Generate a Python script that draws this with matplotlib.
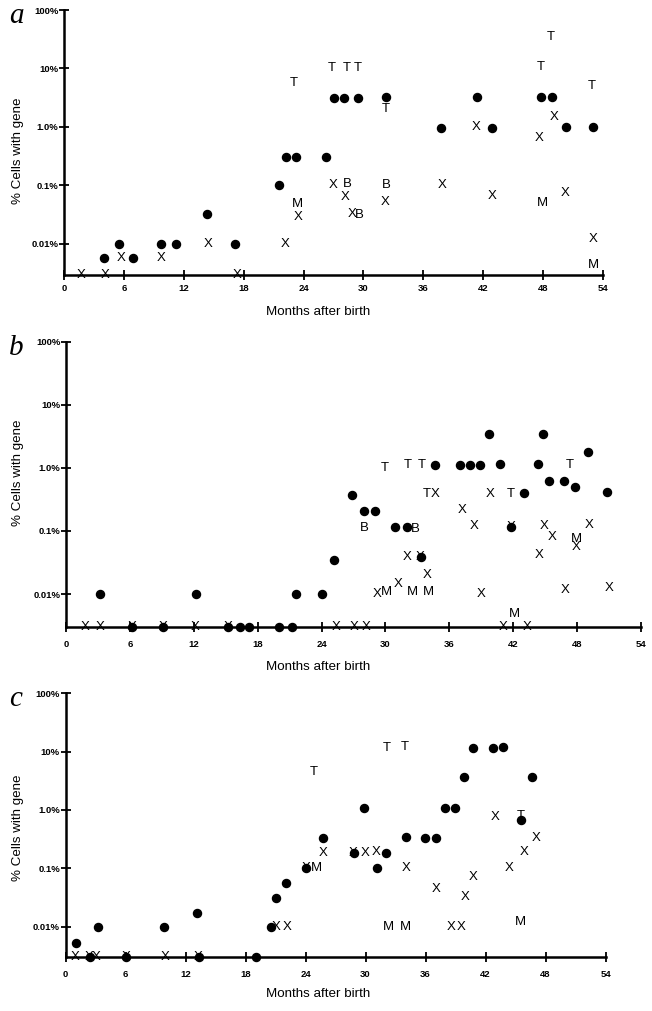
import numpy as np
import matplotlib
matplotlib.use("Agg")
import matplotlib.pyplot as plt

# ──────────────────────────────────────────────
# Data (months after birth, % cells with gene)
# AX = value at the detection floor (drawn on the x-axis)
# ──────────────────────────────────────────────
AX = 0.003

# Panel a
A_DOT_M = [4.0, 5.5, 6.9, 9.7, 11.2, 14.3, 17.1, 21.5, 22.2, 23.2, 26.2, 27.0, 28.1, 29.5,
           32.3, 37.8, 41.4, 42.9, 47.8, 48.9, 50.3, 53.0]
A_DOT_P = [0.0058, 0.01, 0.0058, 0.01, 0.01, 0.033, 0.01, 0.1, 0.31, 0.31, 0.31, 3.1, 3.1, 3.1,
           3.2, 0.95, 3.2, 0.97, 3.2, 3.2, 1.0, 1.0]
A_X_M = [1.7, 4.1, 5.7, 9.7, 14.4, 17.3, 22.2, 23.5, 27.0, 28.2, 28.9, 32.2, 37.9, 41.3,
         42.9, 47.6, 49.1, 50.2, 53.0]
A_X_P = [AX, AX, 0.0057, 0.0058, 0.01, AX, 0.01, 0.029, 0.1, 0.063, 0.032, 0.053, 0.1, 1.0,
         0.065, 0.64, 1.47, 0.074, 0.012]
A_T_M = [23.0, 26.8, 28.3, 29.4, 32.2, 47.8, 48.8, 52.9]
A_T_P = [5.7, 10, 10, 10, 2.0, 10.5, 35, 5.1]
A_B_M = [28.4, 29.6, 32.3]
A_B_P = [0.107, 0.031, 0.1]
A_M_M = [23.4, 47.9, 53.0]
A_M_P = [0.049, 0.051, 0.0044]

# Panel b
B_DOT_M = [3.2, 12.2, 21.6, 24.0, 25.2, 26.9, 28.0, 29.0, 30.9, 32.0, 33.3, 34.7, 37.0, 37.9,
           38.9, 39.7, 40.8, 41.8, 43.0, 44.3, 44.8, 45.4, 46.8, 47.8, 49.0, 50.8,
           6.2, 9.1, 15.2, 16.3, 17.2, 20.0, 21.2]
B_DOT_P = [0.01, 0.01, 0.01, 0.01, 0.034, 0.37, 0.21, 0.21, 0.115, 0.115, 0.039, 1.1, 1.1, 1.1,
           1.1, 3.5, 1.15, 0.115, 0.4, 1.15, 3.5, 0.63, 0.63, 0.49, 1.8, 0.42,
           AX, AX, AX, AX, AX, AX, AX]
B_X_M = [1.8, 3.2, 6.2, 9.1, 12.1, 15.2, 25.4, 27.1, 28.2, 41.1, 43.3,
         29.2, 31.2, 32.0, 33.3, 33.95, 34.7, 37.2, 38.3, 39.0, 39.8, 41.8, 44.4, 44.9, 45.7,
         46.9, 47.9, 49.1, 51.0]
B_X_P = [AX, AX, AX, AX, AX, AX, AX, AX, AX, AX, AX,
         0.01, 0.0146, 0.038, 0.039, 0.0197, 0.39, 0.215, 0.12, 0.01, 0.39, 0.115, 0.041, 0.12,
         0.079, 0.0117, 0.055, 0.125, 0.0125]
B_T_M = [29.9, 32.1, 33.4, 33.9, 41.8, 47.3]
B_T_P = [1.0, 1.1, 1.1, 0.39, 0.39, 1.1]
B_B_M = [28.0, 32.8]
B_B_P = [0.113, 0.107]
B_M_M = [30.1, 32.5, 34.0, 42.1, 47.95]
B_M_P = [0.0106, 0.0106, 0.0106, 0.0049, 0.075]

# Panel c
C_DOT_M = [1.05, 3.2, 9.8, 13.1, 20.5, 21.0, 22.05, 24.05, 25.7, 28.8, 29.8, 31.15, 32.0, 34.0,
           35.95, 37.05, 37.9, 38.95, 39.8, 40.7, 42.7, 43.75, 45.5, 46.65,
           2.4, 6.05, 13.3, 19.0]
C_DOT_P = [0.0053, 0.01, 0.01, 0.017, 0.01, 0.031, 0.055, 0.1, 0.33, 0.185, 1.08, 0.1, 0.185, 0.34,
           0.33, 0.33, 1.08, 1.08, 3.6, 11.7, 11.7, 12.0, 0.66, 3.6,
           AX, AX, AX, AX]
C_X_M = [0.95, 2.4, 3.1, 6.05, 10.0, 13.3,
         21.1, 22.2, 24.05, 25.8, 28.8, 29.95, 31.05, 34.1, 37.1, 38.6, 39.55, 39.95, 40.8,
         42.95, 44.4, 45.85, 47.1]
C_X_P = [AX, AX, AX, AX, AX, AX,
         0.01, 0.01, 0.1, 0.185, 0.185, 0.185, 0.19, 0.1, 0.044, 0.01, 0.01, 0.032, 0.07,
         0.75, 0.1, 0.19, 0.33]
C_T_M = [24.8, 32.1, 33.9, 45.5]
C_T_P = [4.5, 11.7, 12.0, 0.78]
C_B_M = []
C_B_P = []
C_M_M = [25.1, 32.3, 33.95, 45.5]
C_M_P = [0.1, 0.01, 0.01, 0.0119]

X_TICKS = [0, 6, 12, 18, 24, 30, 36, 42, 48, 54]
Y_TICKS = [0.01, 0.1, 1, 10, 100]
Y_LABELS = ["0.01%", "0.1%", "1.0%", "10%", "100%"]

SANS = "Liberation Sans"
W, H = 652, 1011

# panel rectangles in pixels: left, top, right, bottom; then x-tick pad,
# x-label y, y-label y
PANELS = [
    ("a", (64, 10, 603, 274.5), A_DOT_M, A_DOT_P, A_X_M, A_X_P, A_T_M, A_T_P,
     A_B_M, A_B_P, A_M_M, A_M_P, 3.0, 312, 151),
    ("b", (66, 341.7, 641, 627), B_DOT_M, B_DOT_P, B_X_M, B_X_P, B_T_M, B_T_P,
     B_B_M, B_B_P, B_M_M, B_M_P, 6.0, 667, 473),
    ("c", (65.5, 693.3, 605.5, 957), C_DOT_M, C_DOT_P, C_X_M, C_X_P, C_T_M, C_T_P,
     C_B_M, C_B_P, C_M_M, C_M_P, 6.0, 994, 828),
]

fig = plt.figure(figsize=(W / 100, H / 100), dpi=100)
fig.patch.set_facecolor("white")

for (letter, (l, t, r, b), dm, dp, xm, xp, tm, tp, bm, bp, mm, mp,
     xpad, xlab_y, ylab_y) in PANELS:
    ax = fig.add_axes([l / W, 1 - b / H, (r - l) / W, (b - t) / H])
    ax.set_yscale("log")
    ax.set_xlim(0, 54)
    ax.set_ylim(AX, 100)
    for s in ("top", "right"):
        ax.spines[s].set_visible(False)
    for s in ("left", "bottom"):
        ax.spines[s].set_linewidth(1.8)
    ax.set_xticks(X_TICKS)
    ax.set_xticklabels([str(v) for v in X_TICKS])
    ax.set_yticks(Y_TICKS)
    ax.set_yticklabels(Y_LABELS)
    ax.yaxis.set_minor_locator(matplotlib.ticker.NullLocator())
    ax.tick_params(direction="inout", length=7, width=1.3, labelsize=6.8)
    ax.tick_params(axis="y", pad=0.5)
    ax.tick_params(axis="x", pad=xpad)
    for lab in ax.get_xticklabels() + ax.get_yticklabels():
        lab.set_fontweight("bold")
        lab.set_family(SANS)

    ax.plot(dm, dp, "o", ms=5.8, color="black", clip_on=False, zorder=3)
    for sym, ms_, ps_ in (("X", xm, xp), ("T", tm, tp), ("B", bm, bp), ("M", mm, mp)):
        for m, p in zip(ms_, ps_):
            ax.text(m, p, sym, ha="center", va="center", fontsize=9.5,
                    family=SANS, color="black", zorder=4)

    fig.text(16 / W, 1 - (t + 6) / H, letter, fontsize=21, family="Liberation Serif",
             style="italic", ha="center", va="center")
    fig.text(318 / W, 1 - xlab_y / H, "Months after birth", fontsize=9.6, family=SANS,
             ha="center", va="center")
    fig.text(18 / W, 1 - ylab_y / H, "% Cells with gene", fontsize=9.6, family=SANS,
             rotation=90, ha="center", va="center")

fig.savefig("out.png", dpi=100)
